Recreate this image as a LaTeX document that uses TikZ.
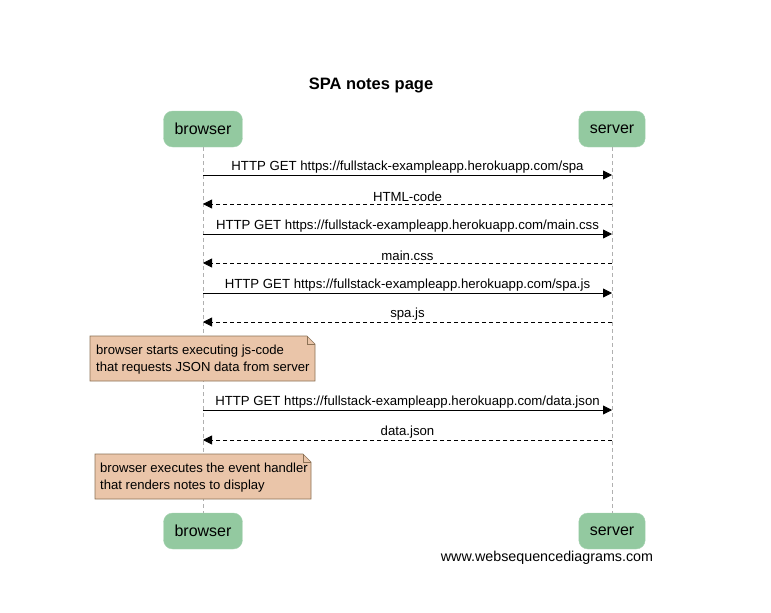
\documentclass[tikz,border=0pt]{standalone}
\usepackage{fontspec}
\setmainfont{Liberation Sans}
\usetikzlibrary{arrows.meta}
\definecolor{partfill}{HTML}{93C9A0}
\definecolor{notefill}{HTML}{EAC5A9}
\definecolor{notedraw}{HTML}{8C7256}
\definecolor{lifegray}{HTML}{B0B0B0}
\begin{document}
\begin{tikzpicture}[x=1pt,y=-1pt,
  part/.style={fill=partfill,draw=partfill!80!white,rounded corners=9pt,minimum height=36pt,inner xsep=11pt,font=\fontsize{16}{19}\selectfont,text=black},
  msg/.style={-{Triangle[length=9pt,width=9pt]},line width=0.8pt},
  rep/.style={msg,dash pattern=on 4pt off 3pt},
  lbl/.style={font=\fontsize{13.2}{15}\selectfont,inner sep=0pt},
  life/.style={lifegray,dash pattern=on 4pt off 3pt,line width=0.7pt},
  notetxt/.style={font=\fontsize{13.1}{16.5}\selectfont,align=left,inner sep=0pt,anchor=west}
]
\useasboundingbox (0,0) rectangle (771,613);
\node[font=\bfseries\fontsize{16.5}{19}\selectfont] (title) at (371,85) {SPA notes page};
\node[part] (bt) at (203,129) {browser};
\node[part] (st) at (612,129) {server};
\node[part] (bb) at (203,531) {browser};
\node[part] (sb) at (612,531) {server};
\draw[life] (bt.south) -- (bb.north);
\draw[life] (st.south) -- (sb.north);
% messages
\coordinate (b1) at (203,175); \coordinate (s1) at (612,175);
\coordinate (b2) at (203,204); \coordinate (s2) at (612,204);
\coordinate (b3) at (203,234); \coordinate (s3) at (612,234);
\coordinate (b4) at (203,263); \coordinate (s4) at (612,263);
\coordinate (b5) at (203,293); \coordinate (s5) at (612,293);
\coordinate (b6) at (203,322); \coordinate (s6) at (612,322);
\coordinate (b7) at (203,410); \coordinate (s7) at (612,410);
\coordinate (b8) at (203,440); \coordinate (s8) at (612,440);
\draw[msg] (b1) -- (s1) node[lbl,midway,above=1.5pt] (m1) {HTTP GET https://fullstack-exampleapp.herokuapp.com/spa};
\draw[rep] (s2) -- (b2) node[lbl,midway,above=1.5pt] (m2) {HTML-code};
\draw[msg] (b3) -- (s3) node[lbl,midway,above=1.5pt] (m3) {HTTP GET https://fullstack-exampleapp.herokuapp.com/main.css};
\draw[rep] (s4) -- (b4) node[lbl,midway,above=1.5pt] (m4) {main.css};
\draw[msg] (b5) -- (s5) node[lbl,midway,above=1.5pt] (m5) {HTTP GET https://fullstack-exampleapp.herokuapp.com/spa.js};
\draw[rep] (s6) -- (b6) node[lbl,midway,above=1.5pt] (m6) {spa.js};
\draw[msg] (b7) -- (s7) node[lbl,midway,above=1.5pt] (m7) {HTTP GET https://fullstack-exampleapp.herokuapp.com/data.json};
\draw[rep] (s8) -- (b8) node[lbl,midway,above=1.5pt] (m8) {data.json};
% notes
\draw[fill=notefill,draw=notedraw,line width=0.7pt] (90,336) -- (307,336) -- (315,344) -- (315,381) -- (90,381) -- cycle;
\draw[notedraw,line width=0.7pt] (307,336) -- (307,344) -- (315,344);
\node[notetxt] (n1) at (96,359.5) {browser starts executing js-code\\that requests JSON data from server};
\draw[fill=notefill,draw=notedraw,line width=0.7pt] (95,454) -- (303,454) -- (311,462) -- (311,499) -- (95,499) -- cycle;
\draw[notedraw,line width=0.7pt] (303,454) -- (303,462) -- (311,462);
\node[notetxt] (n2) at (100,477.5) {browser executes the event handler\\that renders notes to display};
\node[font=\fontsize{14.3}{16}\selectfont] (foot) at (547,558) {www.websequencediagrams.com};
\end{tikzpicture}
\end{document}
